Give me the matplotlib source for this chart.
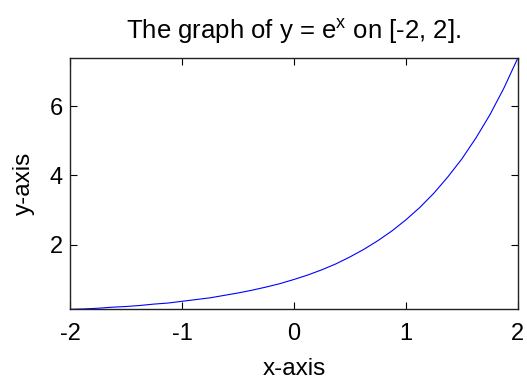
import matplotlib
matplotlib.use('Agg')
import matplotlib.pyplot as plt

plt.rcParams['font.family'] = ['Liberation Sans', 'DejaVu Sans']
plt.rcParams['mathtext.default'] = 'regular'
plt.rcParams['axes.unicode_minus'] = False

# points
x_vals = [-2.0, -1.875, -1.75, -1.625, -1.5, -1.375, -1.25, -1.125, -1.0,
          -0.875, -0.75, -0.625, -0.5, -0.375, -0.25, -0.125, 0.0,
          0.125, 0.25, 0.375, 0.5, 0.625, 0.75, 0.875, 1.0,
          1.125, 1.25, 1.375, 1.5, 1.625, 1.75, 1.875, 2.0]
y_vals = [0.14, 0.15, 0.17, 0.20, 0.22, 0.25, 0.29, 0.32, 0.37,
          0.42, 0.47, 0.54, 0.61, 0.69, 0.78, 0.88, 1.0,
          1.13, 1.28, 1.45, 1.65, 1.87, 2.12, 2.40, 2.72,
          3.08, 3.49, 3.96, 4.48, 5.08, 5.75, 6.52, 7.39]

x_ticks = [-2, -1, 0, 1, 2]
y_ticks = [2, 4, 6]

fig = plt.figure(figsize=(5.27, 3.83), dpi=100)
ax = fig.add_axes([0.1328, 0.192, 0.850, 0.657])

ax.plot(x_vals, y_vals, color=(0, 0, 1), lw=0.8)

ax.set_xlim(-2, 2)
ax.set_ylim(0.135, 7.39)
ax.set_xticks(x_ticks)
ax.set_yticks(y_ticks)
ax.tick_params(direction='in', length=5, width=0.8, labelsize=17,
               top=True, right=True, colors='black')
ax.tick_params(axis='x', pad=10)
ax.tick_params(axis='y', pad=5)
for s in ax.spines.values():
    s.set_linewidth(1.0)
    s.set_color('#222222')

ax.set_title('The graph of y = $e^{x}$ on [-2, 2].', fontsize=18.5, pad=14)
ax.set_xlabel('x-axis', fontsize=17.5, labelpad=9)
ax.set_ylabel('y-axis', fontsize=17.5, labelpad=11)

fig.savefig('out.png', dpi=100)
